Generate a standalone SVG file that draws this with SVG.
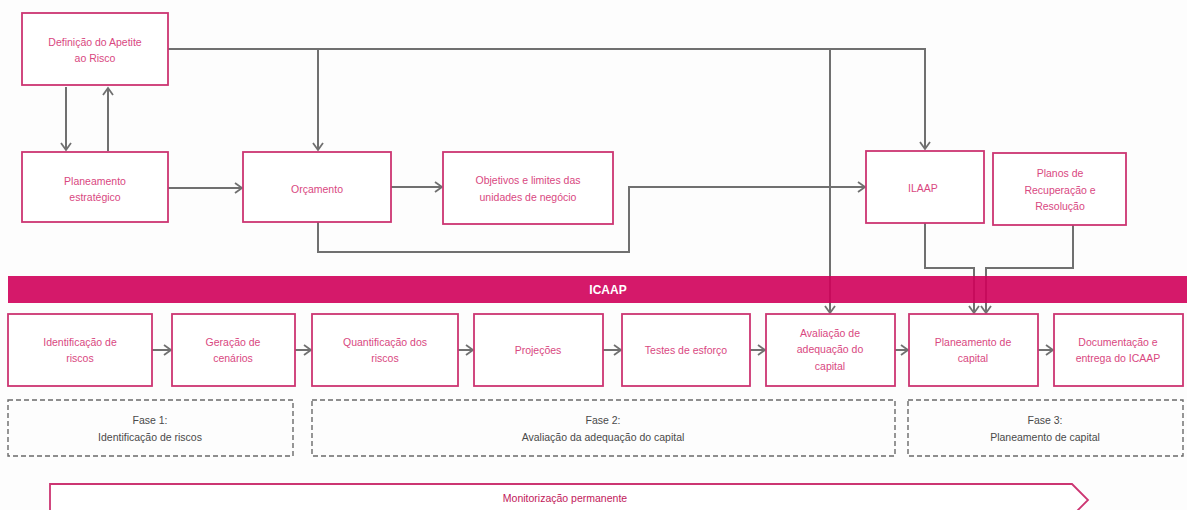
<svg xmlns="http://www.w3.org/2000/svg" width="1187" height="510" viewBox="0 0 1187 510">
<style>
.box{fill:#fff;stroke:#cc3572;stroke-width:1.8}
.t{font-family:"Liberation Sans",Arial,sans-serif;font-size:10.5px;fill:#d9487f;text-anchor:middle}
.ph{fill:none;stroke:#6a6a6a;stroke-width:1.4;stroke-dasharray:5 3}
.pt{font-family:"Liberation Sans",Arial,sans-serif;font-size:10.5px;fill:#4a4a4a;text-anchor:middle}
.c{fill:none;stroke:#707070;stroke-width:2}
</style>
<defs>
<marker id="ah" markerWidth="12" markerHeight="12" refX="9" refY="6" orient="auto" markerUnits="userSpaceOnUse">
<path d="M2,1 L9,6 L2,11" fill="none" stroke="#707070" stroke-width="1.8"/>
</marker>
</defs>
<rect width="1187" height="510" fill="#fdfdfd"/>

<g id="connectors">
<path class="c" d="M168,49 H925 V149" marker-end="url(#ah)"/>
<path class="c" d="M318,49 V150" marker-end="url(#ah)"/>
<path class="c" d="M830,49 V313" marker-end="url(#ah)"/>
<path class="c" d="M66,87 V150" marker-end="url(#ah)"/>
<path class="c" d="M108,151 V88" marker-end="url(#ah)"/>
<path class="c" d="M168,188 H242" marker-end="url(#ah)"/>
<path class="c" d="M391,187 H442" marker-end="url(#ah)"/>
<path class="c" d="M318,222 V252 H629 V187 H865" marker-end="url(#ah)"/>
<path class="c" d="M925,223 V268 H974 V313" marker-end="url(#ah)"/>
<path class="c" d="M1073,225 V268 H986 V313" marker-end="url(#ah)"/>
<path class="c" d="M152,350 H171" marker-end="url(#ah)"/>
<path class="c" d="M295,350 H311" marker-end="url(#ah)"/>
<path class="c" d="M458,350 H473" marker-end="url(#ah)"/>
<path class="c" d="M603,350 H621" marker-end="url(#ah)"/>
<path class="c" d="M750,350 H765" marker-end="url(#ah)"/>
<path class="c" d="M895,350 H908" marker-end="url(#ah)"/>
<path class="c" d="M1038,350 H1053" marker-end="url(#ah)"/>
</g>

<g id="icaap-bar">
<rect x="8" y="276" width="1179" height="27" fill="#d0005a" fill-opacity="0.9"/>
<text x="608" y="294" font-family="Liberation Sans,Arial,sans-serif" font-size="12" font-weight="bold" fill="#fff" text-anchor="middle">ICAAP</text>
</g>

<g id="definicao"><rect class="box" x="22" y="13" width="146" height="72"/><text class="t" x="95" y="46">Definição do Apetite</text><text class="t" x="95" y="62">ao Risco</text></g>
<g id="planeamento-estrategico"><rect class="box" x="22" y="152" width="146" height="70"/><text class="t" x="95" y="185">Planeamento</text><text class="t" x="95" y="201">estratégico</text></g>
<g id="orcamento"><rect class="box" x="243" y="152" width="148" height="70"/><text class="t" x="317" y="193">Orçamento</text></g>
<g id="objetivos"><rect class="box" x="443" y="152" width="170" height="72"/><text class="t" x="528" y="184">Objetivos e limites das</text><text class="t" x="528" y="201">unidades de negócio</text></g>
<g id="ilaap"><rect class="box" x="866" y="151" width="118" height="72"/><text class="t" x="923" y="192">ILAAP</text></g>
<g id="planos"><rect class="box" x="993" y="153" width="133" height="72"/><text class="t" x="1060" y="177">Planos de</text><text class="t" x="1060" y="194">Recuperação e</text><text class="t" x="1060" y="210">Resolução</text></g>

<g id="identificacao"><rect class="box" x="8" y="314" width="144" height="72"/><text class="t" x="80" y="346">Identificação de</text><text class="t" x="80" y="362">riscos</text></g>
<g id="geracao"><rect class="box" x="172" y="314" width="123" height="72"/><text class="t" x="233" y="346">Geração de</text><text class="t" x="233" y="362">cenários</text></g>
<g id="quantificacao"><rect class="box" x="312" y="314" width="146" height="72"/><text class="t" x="385" y="346">Quantificação dos</text><text class="t" x="385" y="362">riscos</text></g>
<g id="projecoes"><rect class="box" x="474" y="314" width="129" height="72"/><text class="t" x="538" y="354">Projeções</text></g>
<g id="testes"><rect class="box" x="622" y="314" width="128" height="72"/><text class="t" x="686" y="354">Testes de esforço</text></g>
<g id="avaliacao"><rect class="box" x="766" y="314" width="129" height="72"/><text class="t" x="830" y="337">Avaliação de</text><text class="t" x="830" y="353">adequação do</text><text class="t" x="830" y="370">capital</text></g>
<g id="planeamento-capital"><rect class="box" x="909" y="314" width="129" height="72"/><text class="t" x="973" y="346">Planeamento de</text><text class="t" x="973" y="362">capital</text></g>
<g id="documentacao"><rect class="box" x="1054" y="314" width="129" height="72"/><text class="t" x="1118" y="346">Documentação e</text><text class="t" x="1118" y="362">entrega do ICAAP</text></g>

<g id="fase1"><rect class="ph" x="8" y="400" width="285" height="56"/><text class="pt" x="150" y="424">Fase 1:</text><text class="pt" x="150" y="441">Identificação de riscos</text></g>
<g id="fase2"><rect class="ph" x="312" y="400" width="583" height="56"/><text class="pt" x="603" y="424">Fase 2:</text><text class="pt" x="603" y="441">Avaliação da adequação do capital</text></g>
<g id="fase3"><rect class="ph" x="908" y="400" width="275" height="56"/><text class="pt" x="1045" y="424">Fase 3:</text><text class="pt" x="1045" y="441">Planeamento de capital</text></g>

<g id="monitorizacao"><path d="M50,484 H1072 L1088,500 L1072,516 H50 Z" fill="#fff" stroke="#cc3572" stroke-width="1.8"/><text x="565" y="502" font-family="Liberation Sans Narrow,Liberation Sans,Arial,sans-serif" font-size="10.5" fill="#c2185b" text-anchor="middle">Monitorização permanente</text></g>
</svg>
